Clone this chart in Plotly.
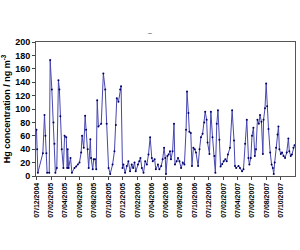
import plotly.graph_objects as go

dates = [
 "2004-12-07","2004-12-10","2004-12-13","2005-01-03","2005-01-10","2005-01-14","2005-01-18","2005-01-21","2005-01-30","2005-02-03",
 "2005-02-10","2005-02-17","2005-02-21","2005-02-25","2005-03-03","2005-03-10","2005-03-14","2005-03-18","2005-03-24","2005-03-31",
 "2005-04-05","2005-04-12","2005-04-16","2005-04-18","2005-04-22","2005-04-30","2005-05-06","2005-05-17","2005-05-24","2005-05-31",
 "2005-06-07","2005-06-14","2005-06-18","2005-06-25","2005-07-01","2005-07-05","2005-07-12","2005-07-16","2005-07-23","2005-07-26",
 "2005-08-02","2005-08-06","2005-08-12","2005-08-17","2005-08-21","2005-08-26","2005-09-07","2005-09-16","2005-09-24","2005-09-30",
 "2005-10-08","2005-10-15","2005-10-25","2005-11-02","2005-11-08","2005-11-12","2005-11-19","2005-11-26","2005-11-30","2005-12-06",
 "2005-12-10","2005-12-17","2005-12-24","2005-12-31","2006-01-07","2006-01-14","2006-01-20","2006-01-26","2006-01-31","2006-02-09",
 "2006-02-15","2006-02-20","2006-02-26","2006-03-05","2006-03-12","2006-03-19","2006-03-26","2006-04-02","2006-04-09","2006-04-13",
 "2006-04-21","2006-04-26","2006-05-05","2006-05-11","2006-05-19","2006-05-25","2006-05-31","2006-06-05","2006-06-08","2006-06-14",
 "2006-06-19","2006-06-25","2006-06-29","2006-07-06","2006-07-12","2006-07-16","2006-07-23","2006-07-29","2006-08-04","2006-08-11",
 "2006-08-18","2006-08-25","2006-09-01","2006-09-05","2006-09-11","2006-09-15","2006-09-21","2006-09-26","2006-10-02","2006-10-08",
 "2006-10-13","2006-10-22","2006-10-28","2006-11-03","2006-11-10","2006-11-17","2006-11-21","2006-11-27","2006-12-01","2006-12-09",
 "2006-12-15","2006-12-22","2006-12-30","2007-01-03","2007-01-09","2007-01-14","2007-01-20","2007-01-25","2007-02-01","2007-02-07",
 "2007-02-14","2007-02-20","2007-02-25","2007-03-06","2007-03-15","2007-03-23","2007-03-27","2007-04-01","2007-04-11","2007-04-17",
 "2007-04-26","2007-05-02","2007-05-09","2007-05-16","2007-05-23","2007-05-27","2007-06-02","2007-06-07","2007-06-13","2007-06-19",
 "2007-06-24","2007-06-30","2007-07-06","2007-07-11","2007-07-17","2007-07-23","2007-07-26","2007-08-01","2007-08-06","2007-08-10",
 "2007-08-16","2007-08-23","2007-08-29","2007-09-03","2007-09-07","2007-09-11","2007-09-17","2007-09-23","2007-09-27","2007-10-01",
 "2007-10-07","2007-10-12","2007-10-18","2007-10-25","2007-11-01","2007-11-08","2007-11-12","2007-11-18","2007-11-23","2007-11-29",
 "2007-12-04"]

hg = [
 69, 40, 5, 34, 91, 60, 34, 5, 5, 173,
 129, 80, 48, 5, 12, 143, 129, 89, 40, 12,
 60, 58, 12, 40, 12, 27, 5, 12, 14, 17,
 20, 35, 60, 42, 90, 69, 40, 12, 55, 27,
 10, 25, 25, 10, 113, 74, 78, 153, 129, 78,
 12, 3, 17, 37, 76, 116, 111, 129, 134, 12,
 17, 5, 15, 22, 7, 17, 12, 20, 7, 17,
 22, 27, 12, 5, 22, 17, 32, 58, 27, 22,
 25, 10, 17, 10, 15, 25, 42, 27, 3, 30,
 32, 37, 25, 37, 78, 17, 22, 27, 22, 12,
 20, 17, 69, 126, 94, 66, 64, 15, 42, 40,
 35, 15, 40, 58, 63, 80, 96, 84, 50, 33,
 96, 58, 30, 5, 78, 98, 54, 14, 18, 22,
 25, 22, 32, 42, 98, 53, 15, 12, 15, 12,
 7, 10, 48, 84, 27, 17, 27, 60, 72, 30,
 40, 84, 78, 91, 81, 33, 84, 101, 138, 104,
 70, 35, 17, 12, 3, 20, 42, 62, 74, 40,
 33, 35, 30, 27, 35, 56, 37, 30, 32, 42,
 46]

y_ticks = [0, 20, 40, 60, 80, 100, 120, 140, 160, 180, 200]
x_range = ["2004-12-05", "2007-12-06"]

font = "Liberation Sans, Arial, sans-serif"

fig = go.Figure()
fig.add_trace(go.Scatter(
    x=dates, y=hg, mode="lines+markers",
    line=dict(color="#4747b0", width=1),
    marker=dict(color="#000066", size=2),
    showlegend=False,
))

fig.update_layout(
    width=300, height=250,
    margin=dict(l=36, r=5, t=42, b=74),
    paper_bgcolor="white", plot_bgcolor="white",
    font=dict(family=font, color="black"),
    title=dict(text="–", x=0.5, xanchor="center", y=0.87, yanchor="middle",
               font=dict(size=7, color="#444")),
)
fig.update_xaxes(
    type="date", range=x_range,
    tick0="2004-12-07", dtick="M2", tickformat="%d/%m/%Y",
    tickangle=-90, tickfont=dict(size=7, family=font, weight="bold"),
    ticks="outside", ticklen=3, tickcolor="#444",
    showgrid=False, showline=True, linecolor="#555", linewidth=1, mirror=True,
)
fig.update_yaxes(
    range=[0, 200], tickvals=y_ticks,
    tickfont=dict(size=9, family=font, weight="bold"),
    ticks="outside", ticklen=3, tickcolor="#444",
    showgrid=False, showline=True, linecolor="#555", linewidth=1, mirror=True,
    zeroline=False,
    title=dict(text="<b>Hg concentration / ng m<sup>-3</sup></b>",
               font=dict(size=9, family=font), standoff=4),
)

fig.write_html("out.html")
